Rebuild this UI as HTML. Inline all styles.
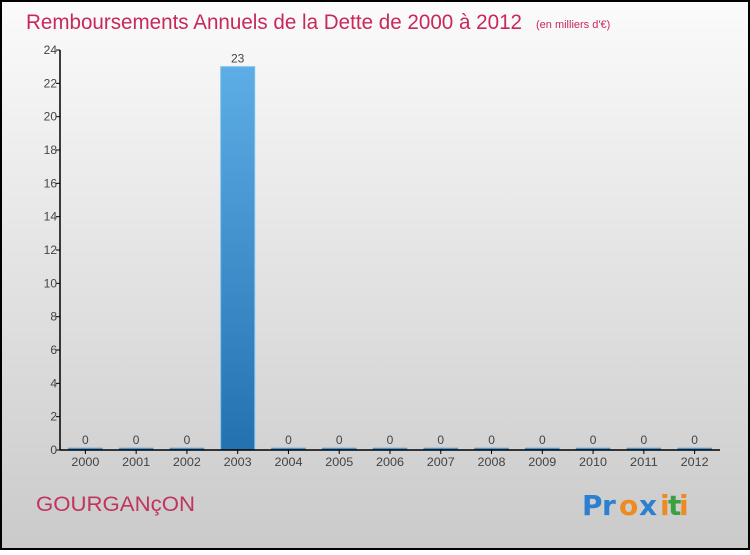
<!DOCTYPE html>
<html><head><meta charset="utf-8"><style>
html,body{margin:0;padding:0}
body{width:750px;height:550px;overflow:hidden;font-family:"Liberation Sans",sans-serif}
</style></head><body>
<svg id="chart" width="750" height="550" xmlns="http://www.w3.org/2000/svg">
<defs>
<linearGradient id="bg" x1="0" y1="0" x2="0" y2="1"><stop offset="0" stop-color="#fbfbfb"/><stop offset="1" stop-color="#cacaca"/></linearGradient>
<linearGradient id="bar" x1="0" y1="0" x2="0" y2="1"><stop offset="0" stop-color="#5dade6"/><stop offset="1" stop-color="#2471b0"/></linearGradient>
</defs>
<rect x="1" y="1" width="748" height="548" fill="url(#bg)" stroke="#000" stroke-width="2"/>
<text x="26" y="29" font-size="21" fill="#c8285a" textLength="496" lengthAdjust="spacingAndGlyphs">Remboursements Annuels de la Dette de 2000 à 2012</text>
<text x="536" y="28" font-size="11" fill="#c8285a">(en milliers d'€)</text>
<g id="plot"></g>
<text x="36" y="511" font-size="21" fill="#c03560" textLength="159" lengthAdjust="spacingAndGlyphs">GOURGANçON</text>
<g font-size="28" font-weight="bold" font-family="'DejaVu Sans',sans-serif">
<text x="582" y="515" fill="#2d7fd0">P</text><text x="602" y="515" fill="#2d7fd0">r</text><text x="619" y="515" fill="#ef8a20">o</text><text x="639" y="515" fill="#2d7fd0">x</text><text x="660" y="515" fill="#ef8a20">i</text><text x="668" y="515" fill="#3aa040">t</text><text x="679" y="515" fill="#ef8a20">i</text>
</g>
</svg>
<script>
const categories=["2000","2001","2002","2003","2004","2005","2006","2007","2008","2009","2010","2011","2012"];
const values=[0,0,0,23,0,0,0,0,0,0,0,0,0];
const yTicks=[0,2,4,6,8,10,12,14,16,18,20,22,24];
const NS="http://www.w3.org/2000/svg";
const g=document.getElementById('plot');
const x0=60,x1=720,yBase=450,yTop=50,yMax=24;
const step=(x1-x0)/categories.length;
const yScale=v=>yBase-(v/yMax)*(yBase-yTop);
const xCenter=i=>x0+step*(i+0.5);
function mk(tag,attrs){const e=document.createElementNS(NS,tag);for(const k in attrs)e.setAttribute(k,attrs[k]);g.appendChild(e);return e;}
yTicks.forEach(t=>{
  const y=yScale(t);
  const l=mk('line',{x1:x0-4,x2:x0,y1:y,y2:y,stroke:'#000'});
  
  
  const tx=mk('text',{x:x0-3,y:y+4,'font-size':12,fill:'#444','text-anchor':'end'});
  tx.textContent=t;
  
  
});
categories.forEach((c,i)=>{
  const cx=xCenter(i),v=values[i];
  const y=yScale(v);
  const h=Math.max(yBase-y,2);
  const r=mk('rect',{x:cx-17,y:yBase-h,width:34,height:h,fill:'url(#bar)',stroke:v>0?'#7cc0ef':'#4a90c8','stroke-width':v>0?1:0.5});
  
  
  const vl=mk('text',{x:cx,y:yBase-h-4,'font-size':12,fill:'#444','text-anchor':'middle'});
  vl.textContent=v;
  
  
  const tk=mk('line',{x1:cx,x2:cx,y1:yBase,y2:yBase+4,stroke:'#000'});
  
  
  const xl=mk('text',{x:cx,y:yBase+16,'font-size':12,fill:'#444','text-anchor':'middle',textLength:28,lengthAdjust:'spacingAndGlyphs'});
  xl.textContent=c;
  
  
});
const ya=mk('line',{x1:x0,x2:x0,y1:yTop,y2:yBase,stroke:'#000','stroke-width':1.5});


const xa=mk('line',{x1:x0,x2:x1,y1:yBase,y2:yBase,stroke:'#000','stroke-width':1.5});


</script>
</body></html>
